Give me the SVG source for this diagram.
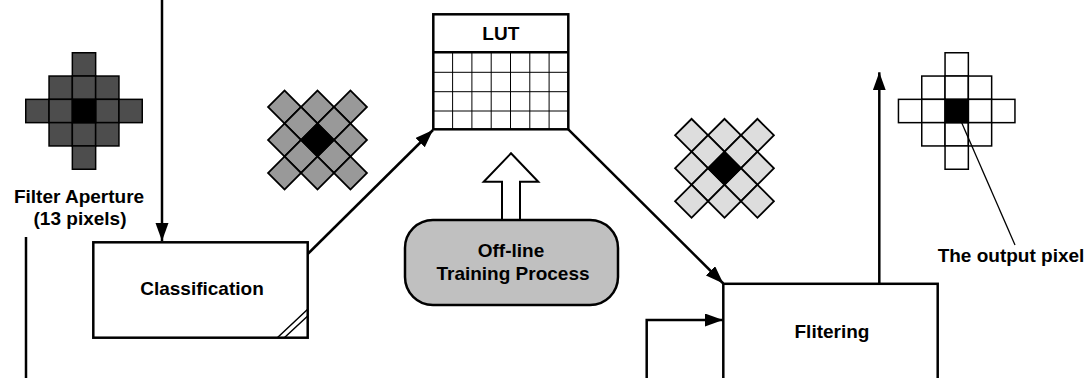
<svg xmlns="http://www.w3.org/2000/svg" width="1091" height="378" viewBox="0 0 1091 378">
<style>
.t{font-family:"Liberation Sans",Arial,sans-serif;font-weight:bold;font-size:19px;fill:#000;text-anchor:middle}
.box{fill:#fff;stroke:#000;stroke-width:2.5}
.ln{fill:none;stroke:#000;stroke-width:2.5}
.c1{fill:#4d4d4d;stroke:#000;stroke-width:1.5}
.c2{fill:#999;stroke:#000;stroke-width:1.8}
.c3{fill:#ddd;stroke:#000;stroke-width:1.8}
.c4{fill:#fff;stroke:#000;stroke-width:1.5}
.k{fill:#000;stroke:#000;stroke-width:1.5}
.g{stroke:#000;stroke-width:1;fill:none}
</style>
<defs>
<marker id="ah" markerUnits="userSpaceOnUse" markerWidth="20" markerHeight="14" refX="18" refY="6.5" orient="auto">
<path d="M0,0 L18,6.5 L0,13 z" fill="#000"/>
</marker>
<g id="cells13">
<rect x="-11.65" y="-58.25" width="23.3" height="23.3"/>
<rect x="-34.95" y="-34.95" width="23.3" height="23.3"/>
<rect x="-11.65" y="-34.95" width="23.3" height="23.3"/>
<rect x="11.65" y="-34.95" width="23.3" height="23.3"/>
<rect x="-58.25" y="-11.65" width="23.3" height="23.3"/>
<rect x="-34.95" y="-11.65" width="23.3" height="23.3"/>
<rect x="11.65" y="-11.65" width="23.3" height="23.3"/>
<rect x="34.95" y="-11.65" width="23.3" height="23.3"/>
<rect x="-34.95" y="11.65" width="23.3" height="23.3"/>
<rect x="-11.65" y="11.65" width="23.3" height="23.3"/>
<rect x="11.65" y="11.65" width="23.3" height="23.3"/>
<rect x="-11.65" y="34.95" width="23.3" height="23.3"/>
</g>
</defs>

<g id="aperture">
<g class="c1" transform="translate(84,111)"><use href="#cells13"/><rect class="k" x="-11.65" y="-11.65" width="23.3" height="23.3"/></g>
<text class="t" x="79" y="203">Filter Aperture</text>
<text class="t" x="80" y="225">(13 pixels)</text>
</g>

<g id="grid-classified">
<g class="c2" transform="translate(317.5,140) rotate(45)"><use href="#cells13"/><rect class="k" x="-11.65" y="-11.65" width="23.3" height="23.3"/></g>
</g>

<g id="grid-filter">
<g class="c3" transform="translate(724.5,168.3) rotate(45)"><use href="#cells13"/><rect class="k" x="-11.65" y="-11.65" width="23.3" height="23.3"/></g>
</g>

<g id="output">
<g class="c4" transform="translate(956.7,111)"><use href="#cells13"/><rect class="k" x="-11.65" y="-11.65" width="23.3" height="23.3"/></g>
<line x1="961.7" y1="122.7" x2="1015" y2="245" stroke="#000" stroke-width="1.3"/>
<text class="t" x="1011" y="262">The output pixel</text>
</g>

<g id="lut">
<rect class="box" x="433.3" y="14.3" width="135" height="115"/>
<path class="g" d="M433.3,72.3H568.3M433.3,91.7H568.3M433.3,111H568.3M452.6,52.3V129.3M471.9,52.3V129.3M491.2,52.3V129.3M510.5,52.3V129.3M529.8,52.3V129.3M549.1,52.3V129.3"/>
<line x1="433.3" y1="52.3" x2="568.3" y2="52.3" stroke="#000" stroke-width="2.5"/>
<text class="t" x="500.8" y="40">LUT</text>
</g>

<g id="classification">
<rect class="box" x="93.3" y="242.3" width="214.4" height="95.4"/>
<path d="M277.3,337.7L307.7,309.3M284.3,337.7L307.7,316" stroke="#000" stroke-width="1.5" fill="none"/>
<text class="t" x="202" y="295">Classification</text>
</g>

<g id="training">
<polygon points="511,153.3 538.3,181.7 520,181.7 520,220 502,220 502,181.7 483.7,181.7" fill="#fff" stroke="#000" stroke-width="2"/>
<rect x="405" y="220" width="213" height="85" rx="28" ry="28" fill="#c0c0c0" stroke="#000" stroke-width="2.5"/>
<text class="t" x="511" y="257">Off-line</text>
<text class="t" x="513" y="279.5">Training Process</text>
</g>

<g id="filtering">
<rect class="box" x="723.3" y="283.8" width="214.4" height="130"/>
<text class="t" x="832" y="337.7">Flitering</text>
</g>

<g id="connectors">
<line class="ln" x1="162" y1="0" x2="162" y2="241" marker-end="url(#ah)"/>
<line class="ln" x1="26" y1="237" x2="26" y2="378"/>
<line class="ln" x1="307.7" y1="254" x2="433" y2="130" marker-end="url(#ah)"/>
<line class="ln" x1="568.3" y1="129.3" x2="723.3" y2="283.5" marker-end="url(#ah)"/>
<line class="ln" x1="879.3" y1="283.8" x2="879.3" y2="72.3" marker-end="url(#ah)"/>
<path class="ln" d="M646.7,378V320H723" marker-end="url(#ah)"/>
</g>
</svg>
